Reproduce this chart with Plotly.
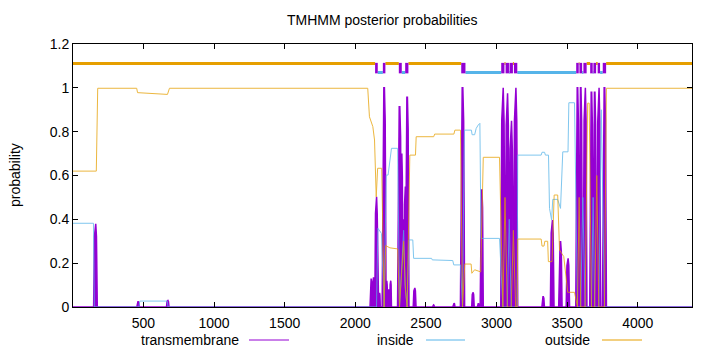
import plotly.graph_objects as go

# ---------------- data ----------------
X_MIN, X_MAX = 1, 4384

title_text = "TMHMM posterior probabilities"
y_label = "probability"
legend_names = ["transmembrane", "inside", "outside"]

x_ticks = [500, 1000, 1500, 2000, 2500, 3000, 3500, 4000]
y_ticks = [0, 0.2, 0.4, 0.6, 0.8, 1.0, 1.2]
y_tick_text = ["0", "0.2", "0.4", "0.6", "0.8", "1", "1.2"]

# outside probability (breakpoints)
out_x = [1, 166, 176, 452, 458, 670, 684, 2088,
         2100, 2124, 2136, 2148, 2158, 2187, 2204,
         2215, 2245, 2300, 2313, 2330, 2342, 2355, 2367,
         2386, 2426, 2431, 2555, 2562, 2698, 2705, 2745,
         2759, 2775, 2820, 2825, 2845, 2888, 2906, 3021,
         3045, 3060, 3076, 3104, 3119, 3135, 3146, 3150, 3316,
         3322, 3336, 3342, 3362, 3367, 3393, 3408, 3433,
         3446, 3476, 3504, 3552, 3573, 3585, 3596, 3627,
         3645, 3656, 3672, 3695, 3710, 3724, 3764, 3778, 4384]
out_y = [0.62, 0.62, 0.998, 0.998, 0.978, 0.970, 0.998, 0.998,
         0.868, 0.823, 0.762, 0.503, 0.633, 0.633, 0.0,
         0.28, 0.27, 0.265, 0.0, 0.15, 0.30, 0.08, 0.0,
         0.693, 0.693, 0.777, 0.777, 0.789, 0.789, 0.807, 0.807,
         0.0, 0.196, 0.196, 0.154, 0.17, 0.16, 0.683, 0.683,
         0.0, 0.5, 0.0, 0.0, 0.35, 0.0, 0.0, 0.31, 0.31,
         0.278, 0.278, 0.30, 0.30, 0.207, 0.207, 0.511, 0.511,
         0.26, 0.23, 0.067, 0.067, 0.0, 0.5, 0.0, 0.0,
         0.93, 0.93, 0.0, 0.0, 0.6, 0.0, 0.0, 0.998, 0.998]

# inside probability (breakpoints)
in_x = [1, 146, 152, 468, 474, 668, 674, 2150,
        2160, 2185, 2204, 2219, 2232, 2240, 2256, 2300,
        2313, 2330, 2342, 2352, 2367, 2380, 2407, 2413,
        2540, 2545, 2690, 2697, 2745, 2759, 2772, 2822,
        2827, 2845, 2856, 2870, 2882, 2890, 3021, 3045,
        3076, 3090, 3104, 3135, 3146, 3150, 3316, 3322,
        3340, 3346, 3368, 3375, 3390, 3398, 3433, 3453,
        3469, 3506, 3512, 3552, 3573, 3596, 3611, 3627,
        3672, 3684, 3695, 3724, 3742, 3764, 4384]
in_y = [0.382, 0.382, 0.0, 0.0, 0.027, 0.027, 0.0, 0.0,
        0.359, 0.336, 0.0, 0.602, 0.602, 0.64, 0.724, 0.724,
        0.0, 0.2, 0.35, 0.1, 0.0, 0.306, 0.306, 0.222,
        0.222, 0.215, 0.212, 0.192, 0.192, 0.0, 0.807, 0.807,
        0.786, 0.786, 0.815, 0.83, 0.838, 0.313, 0.313, 0.0,
        0.0, 0.4, 0.0, 0.0, 0.0, 0.693, 0.693, 0.706,
        0.706, 0.693, 0.693, 0.45, 0.397, 0.491, 0.491, 0.45,
        0.708, 0.708, 0.932, 0.932, 0.0, 0.0, 0.5, 0.0,
        0.0, 0.5, 0.0, 0.0, 0.9, 0.0, 0.0]

# transmembrane probability peaks (centre residue, peak value, half-width in residues)
tm_center = [160, 462, 672,
             2111, 2128, 2149, 2171, 2204,
             2222, 2237, 2250, 2313, 2328, 2342, 2353, 2367,
             2420, 2553, 2698, 2759,
             2833, 2870, 2895,
             3045, 3076, 3104, 3135,
             3330, 3394, 3452, 3505,
             3573, 3596, 3627, 3672, 3695, 3724, 3764]
tm_height = [0.38, 0.024, 0.03,
             0.13, 0.135, 0.503, 0.064, 1.0,
             0.12, 0.08, 0.12, 0.914, 0.7, 0.4, 0.55, 0.957,
             0.087, 0.01, 0.017, 1.0,
             0.067, 0.017, 0.534,
             1.0, 0.975, 0.85, 1.0,
             0.047, 0.397, 0.298, 0.222,
             1.0, 1.0, 1.0, 0.98, 0.98, 1.0, 1.0]
tm_halfwidth = [13, 9, 9,
                7, 6, 11, 6, 14,
                6, 6, 6, 14, 9, 8, 8, 13,
                10, 7, 8, 15,
                9, 6, 11,
                15, 14, 14, 15,
                9, 13, 12, 12,
                12, 12, 13, 12, 12, 13, 14]

# predicted topology track: segment start, end, kind (o=outside, i=inside, M=TM helix)
topo_start = [1, 2140, 2159, 2195, 2213, 2308, 2329, 2353, 2376, 2750, 2780,
              3033, 3056, 3064, 3088, 3092, 3116, 3123, 3147,
              3564, 3582, 3587, 3606, 3615, 3638, 3663, 3681, 3686, 3705, 3716, 3733, 3752, 3776]
topo_end = [2140, 2159, 2195, 2213, 2308, 2329, 2353, 2376, 2750, 2780, 3033,
            3056, 3064, 3088, 3092, 3116, 3123, 3147, 3564,
            3582, 3587, 3606, 3615, 3638, 3663, 3681, 3686, 3705, 3716, 3733, 3752, 3776, 4384]
topo_kind = ["o", "M", "i", "M", "o", "M", "i", "M", "o", "M", "i",
             "M", "o", "M", "i", "M", "o", "M", "i",
             "M", "o", "M", "i", "M", "o", "M", "i", "M", "o", "M", "i", "M", "o"]

# ---------------- styles ----------------
PURPLE = "#9400D3"
BLUE = "#56B4E9"
ORANGE = "#E69F00"
FONT = "Liberation Sans, Arial, Helvetica, sans-serif"
FS = 14

W, H = 720, 352
L, R, T, B = 73, 28, 44, 45
PW, PH = W - L - R, H - T - B


def px(xp):
    return (xp - L) / PW


def py(yp):
    return (H - B - yp) / PH


# ---------------- build traces ----------------
tx, ty = [X_MIN], [0.0]
for c, h, w in zip(tm_center, tm_height, tm_halfwidth):
    tx += [c - w, c - 0.55 * w, c - 0.15 * w, c + 0.15 * w, c + 0.55 * w, c + w]
    ty += [0.0, 0.85 * h, h, h, 0.85 * h, 0.0]
tx.append(X_MAX)
ty.append(0.0)

fig = go.Figure()
fig.add_trace(go.Scatter(x=tx, y=ty, mode="lines", fill="tozeroy",
                         fillcolor=PURPLE, line=dict(color=PURPLE, width=1.5),
                         name=legend_names[0], hoverinfo="skip"))
fig.add_trace(go.Scatter(x=in_x, y=in_y, mode="lines", opacity=0.75,
                         line=dict(color=BLUE, width=1), name=legend_names[1]))
fig.add_trace(go.Scatter(x=out_x, y=out_y, mode="lines", opacity=0.75,
                         line=dict(color=ORANGE, width=1), name=legend_names[2]))

for kind, color, lev, lw in [("o", ORANGE, 1.111, 3), ("i", BLUE, 1.070, 3), ("M", PURPLE, 1.090, 10.5)]:
    xs, ys = [], []
    for s, e, k in zip(topo_start, topo_end, topo_kind):
        if k == kind:
            xs += [s, e, None]
            ys += [lev, lev, None]
    fig.add_trace(go.Scatter(x=xs, y=ys, mode="lines", line=dict(color=color, width=lw),
                             hoverinfo="skip", showlegend=False))

# ---------------- layout ----------------
annotations = [
    dict(text=title_text, x=0.5, y=py(20), xref="paper", yref="paper",
         xanchor="center", yanchor="middle", showarrow=False, font=dict(size=FS)),
    dict(text=y_label, x=px(15), y=py(175), xref="paper", yref="paper", textangle=-90,
         xanchor="center", yanchor="middle", showarrow=False, font=dict(size=FS)),
]
shapes = []
leg_text_end = [241, 416, 592]
leg_line = [(249, 289), (426, 465), (602, 642)]
leg_colors = [PURPLE, BLUE, ORANGE]
for name, te, (a, b), col in zip(legend_names, leg_text_end, leg_line, leg_colors):
    annotations.append(dict(text=name, x=px(te), y=py(340), xref="paper", yref="paper",
                            xanchor="right", yanchor="middle", showarrow=False, font=dict(size=FS)))
    shapes.append(dict(type="line", xref="paper", yref="paper", x0=px(a), x1=px(b),
                       y0=py(340), y1=py(340), line=dict(color=col, width=1)))

fig.update_layout(
    width=W, height=H, margin=dict(l=L, r=R, t=T, b=B),
    paper_bgcolor="white", plot_bgcolor="white", showlegend=False,
    font=dict(family=FONT, size=FS, color="black"),
    annotations=annotations, shapes=shapes,
)
fig.update_xaxes(range=[X_MIN, X_MAX], tickvals=x_ticks, ticks="inside", ticklen=5,
                 tickcolor="black", mirror="allticks", showline=True, linecolor="black",
                 linewidth=1, showgrid=False, zeroline=False, ticklabelstandoff=3)
fig.update_yaxes(range=[0, 1.2], tickvals=y_ticks, ticktext=y_tick_text, ticks="inside",
                 ticklen=5, tickcolor="black", mirror="allticks", showline=True,
                 linecolor="black", linewidth=1, showgrid=False, zeroline=False)

fig.write_html("out.html")
